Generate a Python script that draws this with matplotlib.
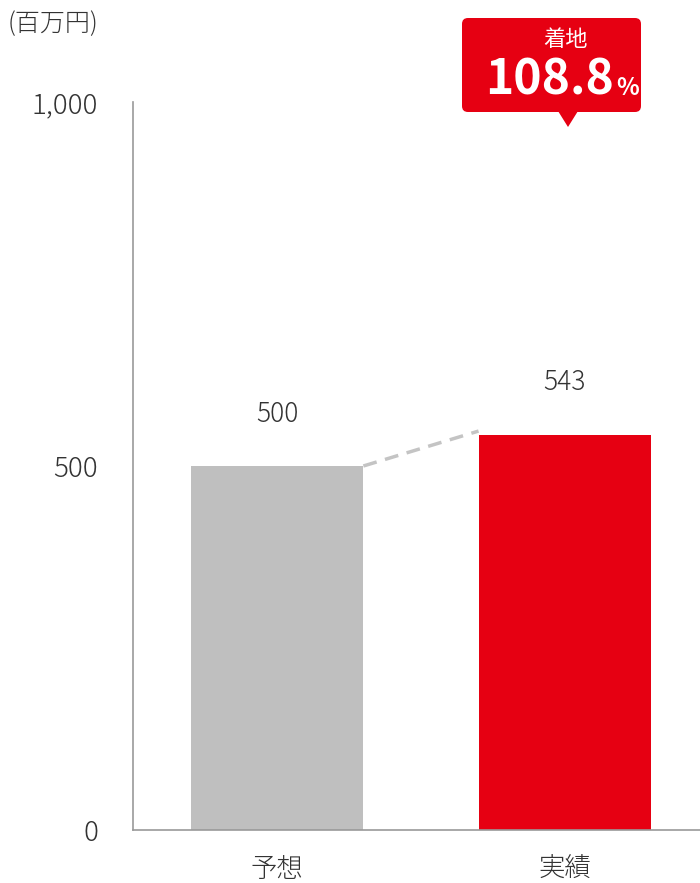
import matplotlib.pyplot as plt
from matplotlib.patches import FancyBboxPatch, Polygon

plt.rcParams['font.family'] = ['Noto Sans CJK JP', 'DejaVu Sans']

categories = ['予想', '実績']
values = [500, 543]
bar_colors = ['#bfbfbf', '#e60012']
yticks = [0, 500, 1000]
ytick_labels = ['0', '500', '1,000']
unit_label = '(百万円)'
badge_title = '着地'
badge_value = '108.8'

fig = plt.figure(figsize=(7, 8.83), dpi=100)
ax = fig.add_axes([0.19, 0.06, 0.81, 0.8245])

x = list(range(len(categories)))
w = 0.6
ax.bar(x, values, width=w, color=bar_colors, zorder=2)

# dashed connector between bar tops
ax.plot([x[0] + w / 2, x[1] - w / 2], [values[0], values[1] + 5],
        color='#c4c4c4', lw=2.5, ls=(0, (4, 2.5)), zorder=1)

for xi, v in zip(x, values):
    ax.text(xi, v + 72, str(v), ha='center', va='center',
            fontsize=19, fontweight='light', color='#333333')

ax.set_xlim(-0.5, 1.469)
ax.set_ylim(0, 1000)
ax.set_yticks(yticks)
ax.set_yticklabels(ytick_labels, fontsize=20, fontweight='light', color='#333333')
ax.set_xticks(x)
ax.set_xticklabels(categories, fontsize=19, fontweight='light', color='#333333')
ax.tick_params(axis='y', length=0, pad=25)
ax.tick_params(axis='x', length=0, pad=18)
for s in ['top', 'right']:
    ax.spines[s].set_visible(False)
for s in ['left', 'bottom']:
    ax.spines[s].set_color('#999999')
    ax.spines[s].set_linewidth(1.2)

# overlay in pixel coordinates for unit label and badge
ov = fig.add_axes([0, 0, 1, 1], facecolor='none')
ov.set_xlim(0, 700)
ov.set_ylim(883, 0)
ov.axis('off')

ov.text(8, 24, unit_label, ha='left', va='center', fontsize=18,
        fontweight='light', color='#333333')

red = '#e60012'
ov.add_patch(FancyBboxPatch((462, 18), 179, 94,
                            boxstyle='round,pad=0,rounding_size=6',
                            fc=red, ec='none'))
ov.add_patch(Polygon([[558, 111], [578, 111], [568, 127]], closed=True,
                     fc=red, ec='none'))
ov.text(566, 40, badge_title, ha='center', va='center', fontsize=16,
        color='white')
ov.text(614, 80, badge_value, ha='right', va='center', fontsize=34.5,
        fontweight='bold', color='white')
ov.text(616, 88, '%', ha='left', va='center', fontsize=17,
        fontweight='bold', color='white')

fig.savefig('out.png', dpi=100)
